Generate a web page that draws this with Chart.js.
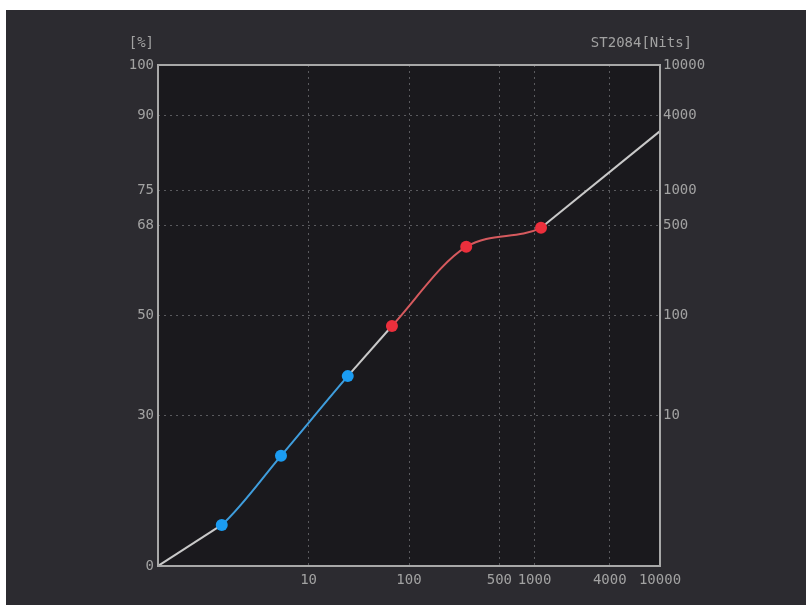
<!DOCTYPE html>
<html>
<head>
<meta charset="utf-8">
<script src="https://cdn.jsdelivr.net/npm/chart.js@4/dist/chart.umd.min.js"></script>
<style>
  html, body { margin:0; padding:0; background:#ffffff; }
  #wrap { position:absolute; left:0; top:0; width:806px; height:605px; }
</style>
</head>
<body>
<div id="wrap"><canvas id="chart-pq"></canvas></div>
<script>
// PQ code values in percent (both axes share the ST2084 percent scale)
var pqTicks   = [0, 30, 50, 68, 75, 90, 100];   // left axis [%]
var nitTicks  = [30, 50, 68, 75, 90, 100];      // positions of the nit labels
var nitLabels = ["10", "100", "500", "1000", "4000", "10000"];

// tone curve
var curveX  = [0, 12.7, 24.5, 37.8, 46.6, 61.4, 76.3, 100];
var curveY  = [0, 8.2, 22.0, 37.9, 47.9, 63.7, 67.5, 86.8];
var curveSeg = ["", "blue", "blue", "blue", "red", "red", "red", ""]; // knot groups

var labelColor = "#a2a2a2";
var gridColor  = "#5a5a5e";
var tickFont   = { family:"DejaVu Sans Mono", size:14 };
var segColors  = { blue:"#3f9ddc", red:"#d65a5e" };
var knotColors = { blue:"#1b9cf2", red:"#ec2f3c", "":"transparent" };

var curvePts = curveX.map(function(x, i){ return { x:x, y:curveY[i] }; });

function segGroup(ctx){
  var a = curveSeg[ctx.p0DataIndex], b = curveSeg[ctx.p1DataIndex];
  return a && a === b ? a : "";
}

function nitLabel(v){
  var i = nitTicks.indexOf(v);
  return i < 0 ? "" : nitLabels[i];
}

// dark panel, plot background, frame and corner captions
var framePlugin = {
  id:"frame",
  beforeDraw:function(chart){
    var c = chart.ctx, a = chart.chartArea;
    c.save();
    c.fillStyle = "#2c2b30";
    c.fillRect(6, 10, chart.width - 6, chart.height - 10);
    c.fillStyle = "#1a191d";
    c.fillRect(a.left, a.top, a.right - a.left, a.bottom - a.top);
    c.restore();
  },
  afterDatasetsDraw:function(chart){
    var c = chart.ctx, a = chart.chartArea;
    c.save();
    c.strokeStyle = "#a8a8a8";
    c.lineWidth = 2;
    c.strokeRect(a.left, a.top, a.right - a.left, a.bottom - a.top);
    c.fillStyle = labelColor;
    c.font = "14px 'DejaVu Sans Mono'";
    c.textBaseline = "middle";
    c.textAlign = "right";
    c.fillText("[%]", a.left - 4, 43);
    c.fillText("ST2084[Nits]", a.right + 32, 43);
    c.restore();
  }
};

var configPQ = {
  type:"line",
  data:{
    datasets:[
      {
        // straight grey pieces outside the adjusted ranges
        label:"linear",
        data:curvePts,
        borderWidth:2,
        tension:0,
        segment:{
          borderColor:function(ctx){ return segGroup(ctx) ? "transparent" : "#c9c9c9"; }
        },
        pointRadius:0,
        order:2
      },
      {
        // smooth coloured pieces with their knots
        label:"knots",
        data:curvePts,
        borderWidth:2,
        cubicInterpolationMode:"monotone",
        segment:{
          borderColor:function(ctx){ var g = segGroup(ctx); return g ? segColors[g] : "transparent"; }
        },
        pointRadius:curveSeg.map(function(s){ return s ? 6 : 0; }),
        pointBackgroundColor:curveSeg.map(function(s){ return knotColors[s]; }),
        pointBorderWidth:0,
        order:1
      }
    ]
  },
  options:{
    responsive:true,
    maintainAspectRatio:false,
    animation:false,
    layout:{ padding:{ left:0, right:0, top:65, bottom:0 } },
    plugins:{ legend:{ display:false }, tooltip:{ enabled:false } },
    scales:{
      x:{
        type:"linear",
        min:0, max:100,
        afterBuildTicks:function(s){ s.ticks = nitTicks.map(function(v){ return { value:v }; }); },
        afterFit:function(s){ s.height = 39; },
        ticks:{
          color:labelColor, font:tickFont, padding:6, maxRotation:0, autoSkip:false,
          callback:function(v){ return nitLabel(v); }
        },
        grid:{
          drawTicks:false, lineWidth:1,
          color:function(ctx){ return ctx.tick && ctx.tick.value >= 100 ? "transparent" : gridColor; }
        },
        border:{ display:false, dash:[2,4] }
      },
      y:{
        position:"left",
        min:0, max:100,
        afterBuildTicks:function(s){ s.ticks = pqTicks.map(function(v){ return { value:v }; }); },
        afterFit:function(s){ s.width = 158; },
        ticks:{ color:labelColor, font:tickFont, padding:4, autoSkip:false },
        grid:{
          drawTicks:false, lineWidth:1,
          color:function(ctx){ var v = ctx.tick && ctx.tick.value; return (v <= 0 || v >= 100) ? "transparent" : gridColor; }
        },
        border:{ display:false, dash:[2,4] }
      },
      y2:{
        position:"right",
        min:0, max:100,
        afterBuildTicks:function(s){ s.ticks = nitTicks.map(function(v){ return { value:v }; }); },
        afterFit:function(s){ s.width = 146; },
        ticks:{
          color:labelColor, font:tickFont, padding:3, autoSkip:false,
          callback:function(v){ return nitLabel(v); }
        },
        grid:{ display:false, drawTicks:false },
        border:{ display:false }
      }
    }
  },
  plugins:[framePlugin]
};

var chartPQ = new Chart(document.getElementById("chart-pq"), configPQ);
</script>
</body>
</html>
